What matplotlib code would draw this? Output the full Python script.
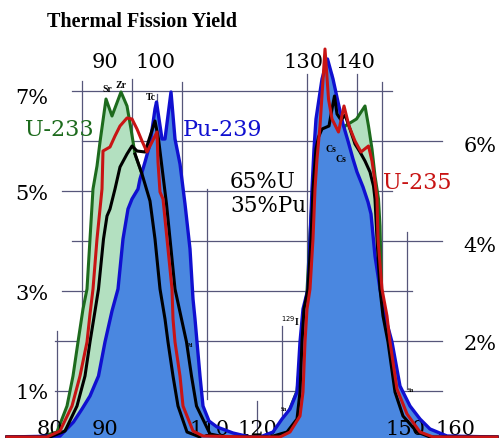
import matplotlib
matplotlib.use("Agg")
import matplotlib.pyplot as plt

# thermal fission yields (%), both peaks in one list
u233_mass = [70, 76.6, 80, 82, 83.2, 84.2, 85.2, 86, 86.6, 87.2, 88, 88.6, 89.8, 91, 92.8, 94, 94.8,
             95.6, 97, 98.6, 99.6, 100.6, 101.6, 102.2, 103.2, 104.2, 106, 108.6,
             115, 121, 124, 126, 128, 129, 130, 130.8, 131.6, 133, 135, 136.5, 137.6, 139.9,
             141.6, 142.3, 143, 143.6, 144.3, 144.6, 144.9, 145.4, 146.4, 147.6, 149, 151.4, 154.2, 168]
u233_yield = [0.08, 0.08, 0.18, 0.70, 1.30, 1.98, 2.64, 3.04, 4.04, 5.04, 5.5, 5.98, 6.84, 6.5, 6.98, 6.7, 6.24,
              5.74, 5.34, 4.8, 4.04, 3.04, 2.44, 1.98, 1.30, 0.70, 0.18, 0.08,
              0.08, 0.08, 0.2, 0.5, 1.0, 2.0, 3.0, 4.5, 5.5, 5.9, 6.0, 6.1, 6.3, 6.44,
              6.7, 6.3, 5.84, 5.3, 4.84, 4.3, 3.04, 2.5, 1.98, 0.98, 0.5, 0.18, 0.08, 0.08]

u235_mass = [70, 78, 80.6, 83, 84.6, 86, 86.6, 87.2, 88, 89, 89.2, 90.6, 91.6, 92.6, 94, 95, 96, 97,
             98, 99, 100, 100.2, 100.6, 101.2, 102, 103, 103.2, 103.6, 104.6, 105.2, 107.2, 109.2,
             118, 124.6, 126.6, 128.6, 129.2, 129.6, 130, 130.6, 131.2, 131.6, 132, 132.6, 133.6,
             134.3, 135, 136.3, 137.4, 138.4, 139.6, 140.8, 142.3, 143, 143.6, 144, 144.2, 145,
             146, 146.6, 148, 150, 152.6, 155.2, 168]
u235_yield = [0.08, 0.08, 0.2, 0.7, 1.3, 1.98, 2.54, 3.04, 4.04, 5.04, 5.8, 5.88, 6.1, 6.3, 6.46, 6.44, 6.24, 6.0,
              5.78, 5.98, 6.18, 5.58, 4.98, 4.84, 4.04, 3.04, 2.44, 1.98, 1.3, 0.7, 0.2, 0.1,
              0.08, 0.08, 0.18, 0.5, 0.98, 1.98, 2.64, 3.04, 4.04, 5.04, 5.64, 6.3, 7.84,
              6.84, 6.44, 6.18, 6.7, 6.3, 6.0, 5.78, 5.9, 5.6, 5.18, 4.84, 4.04, 3.04,
              2.5, 1.98, 1.04, 0.54, 0.18, 0.08, 0.08]

pu239_mass = [70, 80.6, 83.3, 85, 86.6, 88.3, 89.6, 91, 92.2, 93.2, 94.2, 95, 96.2, 96.6, 97.6, 98.6,
              99.6, 99.9, 101, 101.6, 102.8, 103.6, 104.6, 105.6, 106.6, 107.2, 107.6, 108, 108.6,
              109.2, 110.4, 112, 115.2, 118.6, 120.6, 123.2, 125, 126.6, 128, 128.6, 129.2, 130.2,
              130.6, 131, 131.4, 131.8, 132.4, 133, 134.1, 135.2, 136.2, 137.2, 138.2, 139.2, 140,
              141.2, 142.2, 142.8, 143.6, 144.6, 145.6, 147, 148.6, 150.6, 152.6, 154.6, 158, 168]
pu239_yield = [0.08, 0.1, 0.38, 0.64, 0.9, 1.3, 1.98, 2.6, 3.04, 4.04, 4.64, 4.84, 5.04, 5.24, 5.58, 5.94,
               6.64, 6.78, 6.04, 6.04, 6.98, 6.04, 5.54, 4.74, 3.84, 2.84, 2.44, 1.98, 1.3,
               0.7, 0.4, 0.28, 0.16, 0.08, 0.08, 0.18, 0.44, 0.64, 0.98, 1.98, 2.64, 3.04,
               4.04, 5.04, 5.84, 6.44, 6.84, 7.24, 7.64, 7.24, 6.78, 6.34, 6.0, 5.64, 5.38,
               5.08, 4.78, 4.54, 3.7, 3.04, 2.5, 1.98, 1.1, 0.7, 0.44, 0.24, 0.1, 0.08]

mix_mass = [70, 78.6, 81.6, 84, 85.6, 86.6, 87.6, 88.3, 89.3, 90, 90.6, 91.6, 92.6, 94, 95, 96, 97.6,
            99.6, 100.3, 101.9, 102.6, 103.6, 104.9, 105.9, 106.9, 107.9, 110.6, 113.6,
            122.6, 126, 128, 128.6, 129, 129.4, 130.2, 130.8, 131.2, 131.8, 132.3, 133, 134.4,
            135, 135.5, 136, 136.8, 137.6, 138.6, 139.6, 140.6, 141.6, 142.6, 143.3, 143.6, 144,
            144.6, 145.2, 146.2, 147.6, 149.2, 152, 154.6, 168]
mix_yield = [0.08, 0.08, 0.2, 0.7, 1.3, 1.98, 2.6, 3.04, 4.04, 4.5, 4.64, 5.04, 5.48, 5.74, 5.9, 5.8, 5.78,
             6.4, 6.04, 4.74, 4.04, 3.04, 2.44, 1.98, 1.3, 0.7, 0.14, 0.08,
             0.08, 0.18, 0.44, 0.98, 1.98, 2.64, 3.04, 4.04, 5.04, 5.84, 6.08, 6.24, 6.3,
             6.64, 6.9, 6.54, 6.42, 6.52, 6.24, 5.94, 5.78, 5.6, 5.38, 5.1, 4.84, 4.04,
             3.04, 2.5, 1.98, 0.98, 0.5, 0.18, 0.08, 0.08]

top_ticks = ["90", "100", "130", "140"]
bottom_ticks = ["80", "90", "110", "120", "150", "160"]
left_ticks = ["7%", "5%", "3%", "1%"]
right_ticks = ["6%", "4%", "2%"]

W, H = 500, 439


def px(x, y):
    # pixel position on the scanned sheet -> axes fraction
    return x / W, 1 - y / H


fig = plt.figure(figsize=(5, 4.39), dpi=100)
ax = fig.add_axes([0, 0, 1, 1])
ax.set_xlim(68.6, 168.6)
ax.set_ylim(0.06, 8.84)
ax.axis("off")

# broken grid of the old sheet: (level, from, to)
hgrid = [(7, 83, 147), (6, 85, 157), (5, 81, 147), (4, 83, 157), (3, 81, 151), (2, 79.6, 157), (1, 79.6, 157)]
vgrid = [(80, 0, 2.2), (85, 1.64, 7.2), (90, 0, 1.58), (95, 1.84, 7.24), (100, 0.58, 6.94),
         (105, 2.2, 7.18), (110, 0.84, 5.04), (120, 0, 0.8), (125, 0, 2.3), (130, 0.84, 7.34),
         (135, 2.7, 7.34), (140, 2.7, 7.34), (145, 0.8, 7.18), (150, 1.04, 4.18)]
for lev, a, b in hgrid:
    ax.plot([a, b], [lev, lev], color="#56567a", lw=0.9, zorder=1)
for m, a, b in vgrid:
    ax.plot([m, m], [a, b], color="#56567a", lw=0.9, zorder=1)

green, red, blue = "#1d6b1d", "#c81414", "#1010d0"

ax.fill_between(u233_mass, u233_yield, 0, color="#b3e0c0", lw=0, zorder=2)
ax.plot(u233_mass, u233_yield, color=green, lw=2.2, zorder=3)
ax.fill_between(pu239_mass, pu239_yield, 0, color="#4a87e0", lw=0, zorder=4)

# right flank of the U-233 light peak shows up black over the blue area
i0 = u233_mass.index(95.6)
i1 = u233_mass.index(108.6)
ax.plot(u233_mass[i0:i1 + 1], u233_yield[i0:i1 + 1], color="black", lw=2.2, zorder=6)

ax.plot(pu239_mass, pu239_yield, color=blue, lw=2.4, zorder=5)
ax.plot(u235_mass, u235_yield, color=red, lw=2.2, zorder=7)
ax.plot(mix_mass, mix_yield, color="black", lw=2.2, zorder=6)

serif = "DejaVu Serif"
ax.text(*px(142, 22), "Thermal Fission Yield", transform=ax.transAxes, ha="center", va="center",
        fontsize=14.5, fontweight="bold", family="Liberation Serif")

for lab, x in zip(top_ticks, [105, 155, 303, 355]):
    ax.text(*px(x, 62), lab, transform=ax.transAxes, ha="center", va="center", fontsize=15, family=serif)
for lab, x in zip(bottom_ticks, [50, 105, 209, 257, 405, 455]):
    ax.text(*px(x, 430), lab, transform=ax.transAxes, ha="center", va="center", fontsize=15,
            family=serif, zorder=4.5)
for lab, y in zip(left_ticks, [98, 195, 295, 394]):
    ax.text(*px(32, y), lab, transform=ax.transAxes, ha="center", va="center", fontsize=15, family=serif)
for lab, y in zip(right_ticks, [147, 247, 345]):
    ax.text(*px(480, y), lab, transform=ax.transAxes, ha="center", va="center", fontsize=15, family=serif)

ax.text(*px(59, 130), "U-233", transform=ax.transAxes, ha="center", va="center", fontsize=16,
        family=serif, color=green)
ax.text(*px(222, 130), "Pu-239", transform=ax.transAxes, ha="center", va="center", fontsize=16,
        family=serif, color=blue, zorder=8)
ax.text(*px(230, 182), "65%U", transform=ax.transAxes, ha="left", va="center", fontsize=15.5, family=serif)
ax.text(*px(230, 206), "35%Pu", transform=ax.transAxes, ha="left", va="center", fontsize=15.5, family=serif)
ax.text(*px(417, 183), "U-235", transform=ax.transAxes, ha="center", va="center", fontsize=16,
        family=serif, color=red)

# element tags
small = dict(transform=ax.transAxes, ha="center", va="center", family="Liberation Serif",
             fontweight="bold", zorder=9)
ax.text(*px(107, 89), "Sr", fontsize=7, **small)
ax.text(*px(121, 85), "Zr", fontsize=7, **small)
ax.text(*px(151, 97), "Tc", fontsize=7, **small)
ax.text(*px(331, 150), "Cs", fontsize=7, **small)
ax.text(*px(341, 160), "Cs", fontsize=7, **small)
ax.text(*px(290, 321), r"$^{129}$I", fontsize=7, **small)
ax.text(*px(284, 410), "Sn", fontsize=4, **small)
ax.text(*px(411, 391), "Sn", fontsize=4, **small)
ax.text(*px(190, 346), "Pd", fontsize=4, **small)

fig.savefig("out.png", dpi=100, facecolor="white")
